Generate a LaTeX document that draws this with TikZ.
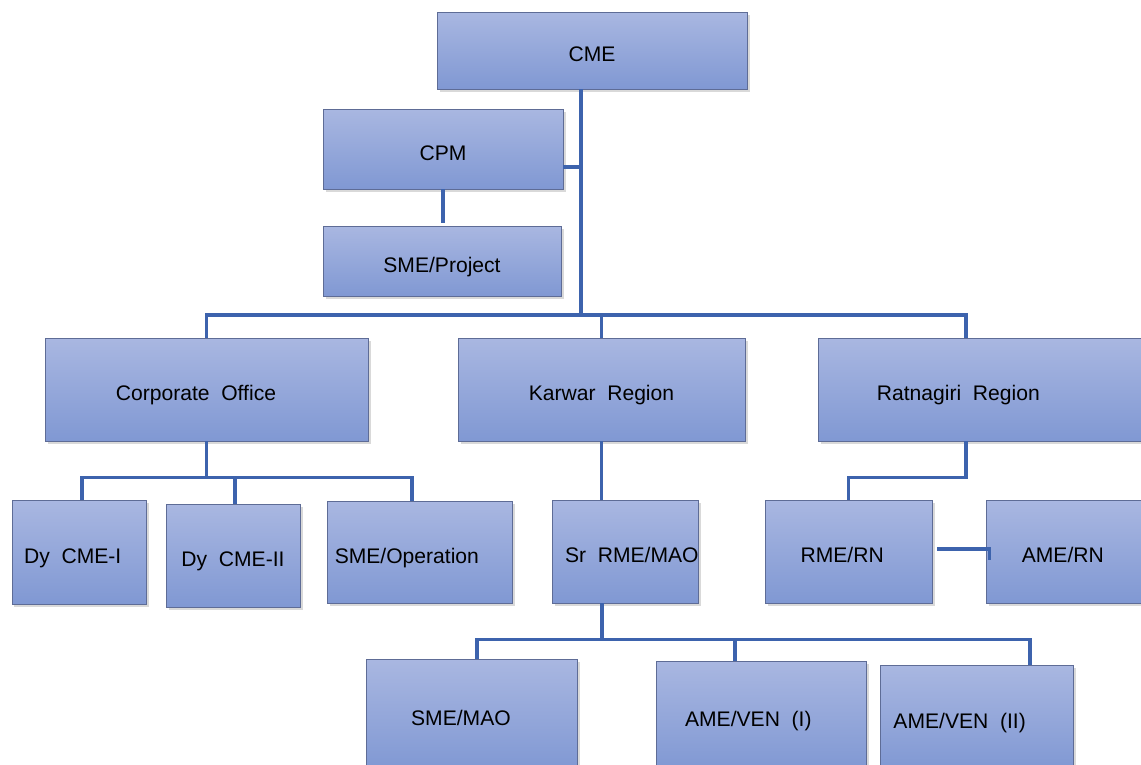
\documentclass[tikz,border=0pt]{standalone}
\usepackage{fontspec}
\setmainfont{Liberation Sans}
\usepackage{tikz}
\usetikzlibrary{positioning,shadows,calc}
\definecolor{boxtop}{HTML}{A9B7E1}
\definecolor{boxbottom}{HTML}{8098D3}
\definecolor{boxline}{HTML}{5E6C96}
\definecolor{linkblue}{HTML}{3D63AD}
\tikzset{
  basic/.style  = {draw=boxline, thin, rectangle, inner sep=0pt, align=center,
                   top color=boxtop, bottom color=boxbottom,
                   text height=0.48cm, text depth=0.04cm,
                   drop shadow={shadow xshift=0.05cm, shadow yshift=-0.06cm, opacity=0.3},
                   font=\fontsize{12}{14}\selectfont},
  wh/.style 2 args = {minimum width=#1*0.02cm, minimum height=#2*0.02cm},
  link/.style   = {draw=linkblue, line width=2pt}
}

\begin{document}
\begin{tikzpicture}[x=0.02cm, y=-0.02cm]
\useasboundingbox (0,0) rectangle (1141,764);

% top of the chart
\node[basic, wh={310}{77}] (cme) at (592,50.5) {CME};
\node[basic, wh={240}{80}] (cpm) at (443,149) {CPM};
\node[basic, wh={238}{70}] (cpm1) at (442,261) {SME/Project};

% the three offices
\node[basic, wh={323}{103}] (c1) at (206.5,389.5) {\hspace*{-1em}Corporate\ \ Office};
\node[basic, wh={287}{103}] (c2) at (601.5,389.5) {Karwar\ \ Region};
\node[basic, wh={325}{103}] (c3) at (980.5,389.5) {\hspace*{-2.1em}Ratnagiri\ \ Region};

% the second level
\node[basic, wh={134}{104}] (c11) at (79,552) {\hspace*{-0.6em}Dy\ \ CME-I};
\node[basic, wh={134}{103}] (c12) at (233,555.5) {Dy\ \ CME-II};
\node[basic, wh={185}{102}] (c13) at (419.5,552) {\hspace*{-1.2em}SME/Operation};
\node[basic, wh={143}{103}] (c21) at (625.5,551.5) {\hspace*{0.6em}Sr\ \ RME/MAO};
\node[basic, wh={167}{103}] (c31) at (848.5,551.5) {\hspace*{-0.6em}RME/RN};
\node[basic, wh={160}{103}] (c32) at (1066,551.5) {\hspace*{-0.3em}AME/RN};

% the third level
\node[basic, wh={211}{111}] (c211) at (471.5,714.5) {\hspace*{-1em}SME/MAO};
\node[basic, wh={210}{109}] (c212) at (761,715.5) {\hspace*{-1.2em}AME/VEN\ \ (I)};
\node[basic, wh={193}{105}] (c213) at (976.5,717.5) {\hspace*{-1.6em}AME/VEN\ \ (II)};

% lines from the top
\coordinate (bus) at (581,315);
\coordinate (tap) at (581,167);
\coordinate (r3) at ([xshift=-0.29cm]c3.north);
\draw[link] (cme.south -| bus) -- (bus);
\draw[link] (cpm.east |- tap) -- (tap);
\draw[link] (cpm.south) -- ([yshift=0.06cm]cpm.south |- cpm1.north);
\draw[link] (c1.north) |- (bus) -| (r3);
\draw[link] (c2.north) -- (c2.north |- bus);

% lines from each office to its children
\coordinate (b1) at ($(c1.south)+(0,36)$);
\draw[link] (c1.south) -- (b1);
\draw[link] ([xshift=0.06cm]c11.north) |- (b1) -| ([xshift=-0.15cm]c13.north);
\draw[link] ([xshift=0.04cm]c12.north) -- ([xshift=0.04cm]c12.north |- b1);

\draw[link] (c2.south) -- (c2.south |- c21.north);

\coordinate (r3s) at ([xshift=-0.29cm]c3.south);
\draw[link] (r3s) -- ++(0,36) -| (c31.north);
\draw[link] ([xshift=0.1cm,yshift=0.05cm]c31.east) -| ([xshift=0.08cm,yshift=-0.17cm]c32.west);

\coordinate (s21) at ([xshift=-0.47cm]c21.south);
\draw[link] (s21) -- ++(0,36) coordinate (b21);
\draw[link] ([xshift=0.11cm]c211.north) |- (b21) -| ([xshift=1.07cm]c213.north);
\draw[link] ([xshift=-0.52cm]c212.north) -- ([xshift=-0.52cm]c212.north |- b21);
\end{tikzpicture}
\end{document}
